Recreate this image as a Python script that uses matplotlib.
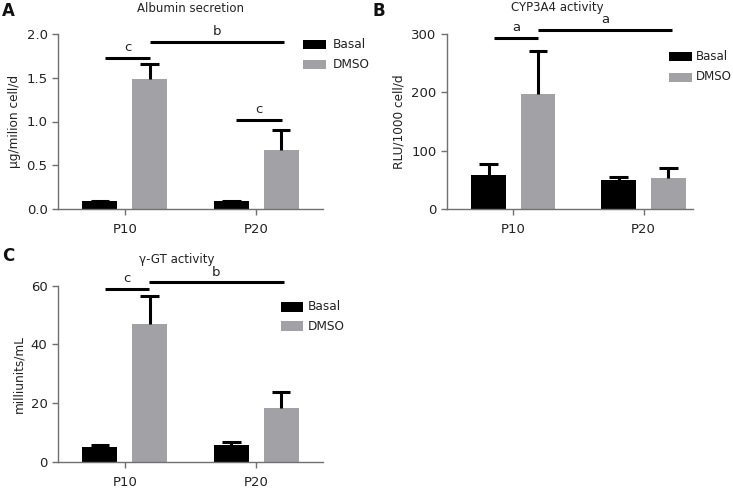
import matplotlib
matplotlib.use("Agg")
import matplotlib.pyplot as plt
from matplotlib.patches import Rectangle
import numpy as np

plt.rcParams['font.family'] = ['DejaVu Sans']

categories = ["P10", "P20"]
series = ["Basal", "DMSO"]

alb_basal = [0.09, 0.09]
alb_basal_err = [0.004, 0.004]
alb_dmso = [1.49, 0.67]
alb_dmso_err = [0.17, 0.23]

cyp_basal = [58, 49]
cyp_basal_err = [20, 6]
cyp_dmso = [197, 54]
cyp_dmso_err = [74, 17]

ggt_basal = [5.0, 5.6]
ggt_basal_err = [0.8, 1.1]
ggt_dmso = [47, 18.4]
ggt_dmso_err = [9.5, 5.3]

# significance brackets: (x0, x1, y, label)
alb_sig = [(-0.15, 0.19, 1.73, "c"), (0.19, 1.21, 1.91, "b"), (0.85, 1.20, 1.02, "c")]
cyp_sig = [(-0.15, 0.19, 294, "a"), (0.19, 1.22, 307, "a")]
ggt_sig = [(-0.15, 0.18, 58.9, "c"), (0.18, 1.21, 61.2, "b")]

BLACK = "#000000"
GRAY = "#a2a2a6"
SPINE = "#707070"
TXT = "#222222"

W, H = 733, 488
fig = plt.figure(figsize=(W / 100, H / 100), dpi=100)


def px_axes(left, right, top, bottom):
    return fig.add_axes([left / W, (H - bottom) / H, (right - left) / W, (bottom - top) / H])


def fig_legend(x0, y_rows, sq_w, sq_h, gap, fs):
    colors = [BLACK, GRAY]
    for lbl, col, yc in zip(series, colors, y_rows):
        fig.patches.append(Rectangle((x0 / W, (H - yc - sq_h / 2) / H), sq_w / W, sq_h / H,
                                     transform=fig.transFigure, facecolor=col,
                                     edgecolor="none", figure=fig))
        fig.text((x0 + sq_w + gap) / W, (H - yc) / H, lbl, ha="left", va="center",
                 fontsize=fs, color=TXT)


def panel(ax, basal, basal_err, dmso, dmso_err, ylim, yticks, yfmt, xlim, ylabel, title,
          sig, sig_lbl_dy, title_y):
    x = np.arange(len(categories))
    off = 0.19
    bw = 0.267
    cap = 0.072
    ax.bar(x - off, basal, bw, color=BLACK, zorder=2)
    ax.bar(x + off, dmso, bw, color=GRAY, zorder=2)
    for xs, vals, errs in ((x - off, basal, basal_err), (x + off, dmso, dmso_err)):
        for xc, v, e in zip(xs, vals, errs):
            ax.plot([xc, xc], [v, v + e], color=BLACK, lw=2.2, zorder=3,
                    solid_capstyle="butt", clip_on=False)
            ax.plot([xc - cap, xc + cap], [v + e, v + e], color=BLACK, lw=2.2, zorder=3,
                    solid_capstyle="butt", clip_on=False)
    ax.set_xlim(*xlim)
    ax.set_ylim(*ylim)
    ax.set_yticks(yticks)
    ax.set_yticklabels([yfmt.format(v) for v in yticks])
    ax.set_xticks(x)
    ax.set_xticklabels(categories)
    for s in ("top", "right"):
        ax.spines[s].set_visible(False)
    for s in ("left", "bottom"):
        ax.spines[s].set_color(SPINE)
        ax.spines[s].set_linewidth(1.0)
    ax.tick_params(axis="both", colors=SPINE, labelcolor=TXT, labelsize=9.5,
                   length=4, width=1.0, direction="out")
    ax.tick_params(axis="x", pad=6)
    ax.set_ylabel(ylabel, fontsize=8.7, color=TXT, labelpad=4)
    for x0, x1, yv, lbl in sig:
        ax.plot([x0, x1], [yv, yv], color=BLACK, lw=2.2, clip_on=False, zorder=4,
                solid_capstyle="butt")
        ax.text((x0 + x1) / 2, yv + sig_lbl_dy, lbl, ha="center", va="bottom",
                fontsize=9.5, color=TXT)
    fig.text(title[1] / W, (H - title_y) / H, title[0], ha="center", va="center",
             fontsize=8.5, color=TXT)


axA = px_axes(58, 323, 34, 209)
panel(axA, alb_basal, alb_basal_err, alb_dmso, alb_dmso_err, (0, 2.0), [0, 0.5, 1.0, 1.5, 2.0],
      "{:.1f}", (-0.51, 1.51), "\u03bcg/milion cell/d", ("Albumin secretion", 190), alb_sig, 0.04, 8)
fig_legend(303, (44, 64), 23, 9, 7, 8.7)

axB = px_axes(447, 693, 34, 209)
panel(axB, cyp_basal, cyp_basal_err, cyp_dmso, cyp_dmso_err, (0, 300), [0, 100, 200, 300],
      "{:.0f}", (-0.51, 1.38), "RLU/1000 cell/d", ("CYP3A4 activity", 557), cyp_sig, 6, 8)
fig_legend(669, (56, 77), 23, 9, 4, 8.5)

axC = px_axes(58, 323, 285.7, 461.7)
panel(axC, ggt_basal, ggt_basal_err, ggt_dmso, ggt_dmso_err, (0, 60), [0, 20, 40, 60],
      "{:.0f}", (-0.51, 1.51), "milliunits/mL", ("\u03b3-GT activity", 177), ggt_sig, 1.2, 259)
fig_legend(281, (307, 326), 22, 10, 5, 8.7)

for lbl, xp, yp in (("A", 2, 11), ("B", 372, 11), ("C", 2, 256)):
    fig.text(xp / W, (H - yp) / H, lbl, ha="left", va="center", fontsize=12,
             fontweight="bold", color="#111111")

fig.savefig("out.png", dpi=100, facecolor="white")
